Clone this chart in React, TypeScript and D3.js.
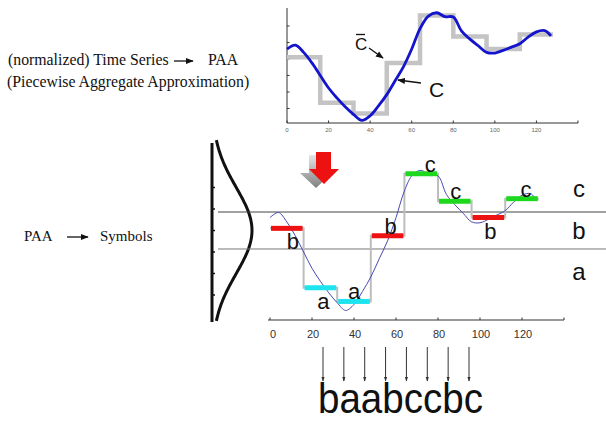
import React from "react";
import * as d3 from "d3";

// ---- data ----
const seriesX = [0, 4, 8, 12, 16, 20, 24, 28, 32, 36, 40, 44, 48, 52, 56, 60, 64, 68, 72, 76, 80, 84, 88, 92, 96, 100, 104, 108, 112, 116, 120, 124, 127];
const seriesY = [0.30, 0.42, 0.20, -0.12, -0.50, -0.88, -1.18, -1.45, -1.68, -1.86, -1.72, -1.42, -1.08, -0.66, -0.24, 0.30, 0.92, 1.30, 1.40, 1.28, 1.27, 0.84, 0.60, 0.40, 0.20, 0.18, 0.26, 0.36, 0.46, 0.66, 0.82, 0.86, 0.70];
const paaValues = [0.05, -1.33, -1.65, -0.12, 1.32, 0.68, 0.30, 0.74];
const segLen = 16;
const symbols = ["b", "a", "a", "b", "c", "c", "b", "c"];
const breakpoints = [-0.43, 0.43];
const alphabet = ["a", "b", "c"];
const xTicks = [0, 20, 40, 60, 80, 100, 120];
const topYTicks = [-1.5, -1, -0.5, 0, 0.5, 1];
const gaussTicks = [-1.5, -1, -0.5, 0, 0.5, 1];
const word = "baabccbc";

// ---- layout / style ----
const symColor: Record<string, string> = { a: "#1de4ee", b: "#ee1111", c: "#1ed81e" };
const labelBelow = [true, true, false, false, false, false, true, false];
const labelDx = [6, 3, 0, 3, 9, 1, 2, 4];

export default function App() {
  const W = 606, H = 422;
  // top chart scales
  const tx = d3.scaleLinear().domain([0, 140]).range([287, 578]);
  const ty = d3.scaleLinear().domain([-1.94, 1.55]).range([123, 7.8]);
  // bottom chart scales
  const bx = d3.scaleLinear().domain([0, 140]).range([270, 564]);
  const by = d3.scaleLinear().domain([-2.1, 2.1]).range([320.8, 140.2]);

  const pts = seriesX.map((x, i) => [x, seriesY[i]] as [number, number]);
  const topLine = d3.line<[number, number]>().x(d => tx(d[0])).y(d => ty(d[1])).curve(d3.curveCatmullRom)(pts) || "";
  const botLine = d3.line<[number, number]>().x(d => bx(d[0])).y(d => by(d[1])).curve(d3.curveCatmullRom)(pts) || "";

  const stepPts: [number, number][] = [];
  paaValues.forEach((v, i) => {
    stepPts.push([i * segLen, v]);
    stepPts.push([(i + 1) * segLen, v]);
  });
  const topStep = d3.line<[number, number]>().x(d => tx(d[0])).y(d => ty(d[1]))(stepPts) || "";
  const botStep = d3.line<[number, number]>().x(d => bx(d[0])).y(d => by(d[1]))(stepPts) || "";

  // gaussian (standard normal density)
  const gx = d3.scaleLinear().domain([0, 1]).range([212, 252]);
  const zs = d3.range(-2.1, 2.1001, 0.05);
  const gauss = d3.line<number>().x(z => gx(Math.exp(-z * z / 2))).y(z => by(z)).curve(d3.curveBasis)(zs) || "";

  const arrowX = d3.scalePoint<number>().domain(d3.range(symbols.length)).range([323, 469]);

  const serif = "'Liberation Serif', 'Times New Roman', serif";
  const sans = "'Liberation Sans', Arial, sans-serif";

  return (
    <svg width={W} height={H} style={{ position: "absolute", left: 0, top: 0, background: "#fff" }}>
      <defs>
        <marker id="ah" viewBox="0 0 10 10" refX="9" refY="5" markerWidth="6" markerHeight="6" orient="auto">
          <path d="M0,1 L10,5 L0,9 z" fill="#111" />
        </marker>
        <marker id="ah2" viewBox="0 0 10 10" refX="9" refY="5" markerWidth="5" markerHeight="6" orient="auto">
          <path d="M0,1.5 L10,5 L0,8.5 z" fill="#333" />
        </marker>
        <linearGradient id="shadow" x1="0" y1="0" x2="0" y2="1">
          <stop offset="0" stopColor="#e6e6e6" />
          <stop offset="1" stopColor="#808080" />
        </linearGradient>
      </defs>

      {/* left texts */}
      <text x={8} y={65} fontFamily={serif} fontSize={15.8} fill="#111">(normalized) Time Series</text>
      <line x1={174} y1={61} x2={193} y2={61} stroke="#111" strokeWidth={1.3} markerEnd="url(#ah)" />
      <text x={208} y={65} fontFamily={serif} fontSize={15.8} fill="#111">PAA</text>
      <text x={7} y={87} fontFamily={serif} fontSize={15.8} fill="#111">(Piecewise Aggregate Approximation)</text>

      <text x={24} y={241} fontFamily={serif} fontSize={15} fill="#111">PAA</text>
      <line x1={67} y1={237} x2={88} y2={237} stroke="#111" strokeWidth={1.3} markerEnd="url(#ah)" />
      <text x={100} y={241} fontFamily={serif} fontSize={15} fill="#111">Symbols</text>

      {/* ---- top chart ---- */}
      <line x1={tx(0)} y1={8} x2={tx(0)} y2={ty(-1.94)} stroke="#333" strokeWidth={1} />
      <line x1={tx(0)} y1={ty(-1.94)} x2={tx(140)} y2={ty(-1.94)} stroke="#333" strokeWidth={1} />
      {topYTicks.map(t => (
        <line key={"yt" + t} x1={tx(0)} x2={tx(0) + 2.5} y1={ty(t)} y2={ty(t)} stroke="#333" strokeWidth={1} />
      ))}
      {xTicks.concat([140]).map(t => (
        <line key={"xt" + t} x1={tx(t)} x2={tx(t)} y1={ty(-1.94)} y2={ty(-1.94) - 2.5} stroke="#333" strokeWidth={1} />
      ))}
      {xTicks.map(t => (
        <text key={"xl" + t} x={tx(t)} y={132} textAnchor="middle" fontFamily={sans} fontSize={6} fill="#666">{t}</text>
      ))}
      <path d={topStep} fill="none" stroke="#c4c4c4" strokeWidth={4.5} />
      <path d={topLine} fill="none" stroke="#1414cc" strokeWidth={2.8} />

      {/* annotations */}
      <line x1={356} y1={34.5} x2={365} y2={34.5} stroke="#111" strokeWidth={1.3} />
      <text x={355} y={50} fontFamily={sans} fontSize={17} fill="#111">C</text>
      <line x1={369} y1={48} x2={383} y2={58} stroke="#111" strokeWidth={1.3} markerEnd="url(#ah)" />
      <text x={429} y={97} fontFamily={sans} fontSize={21} fill="#111">C</text>
      <line x1={421} y1={83} x2={398} y2={80} stroke="#111" strokeWidth={1.3} markerEnd="url(#ah)" />

      {/* ---- red arrow ---- */}
      <path d="M309,155 L324,155 L324,173 L332,173 L316,188 L300,173 L309,173 Z" fill="url(#shadow)" />
      <path d="M316,152 L331,152 L331,169 L339,169 L324,184 L309,169 L316,169 Z" fill="#ee1111" />

      {/* ---- gaussian ---- */}
      <line x1={212} y1={143} x2={212} y2={322} stroke="#111" strokeWidth={3} />
      {gaussTicks.map(t => (
        <line key={"gt" + t} x1={212} x2={215} y1={by(t)} y2={by(t)} stroke="#111" strokeWidth={1.5} />
      ))}
      <path d={gauss} fill="none" stroke="#111" strokeWidth={3} />

      {/* breakpoints */}
      {breakpoints.map((b, i) => (
        <line key={"bp" + i} x1={218} x2={606} y1={by(b)} y2={by(b)} stroke={i === 1 ? "#444" : "#777"} strokeWidth={1} />
      ))}

      {/* bottom axis */}
      <line x1={bx(0) - 2} x2={bx(140)} y1={320} y2={320} stroke="#333" strokeWidth={1} />
      {xTicks.concat([140]).map(t => (
        <line key={"bxt" + t} x1={bx(t)} x2={bx(t)} y1={320} y2={317.5} stroke="#333" strokeWidth={1} />
      ))}
      {xTicks.map(t => (
        <text key={"bxl" + t} x={bx(t) + (t === 0 ? 3 : 1)} y={338} textAnchor="middle" fontFamily={sans} fontSize={11} fill="#333">{t}</text>
      ))}

      {/* bottom series */}
      <path d={botStep} fill="none" stroke="#bdbdbd" strokeWidth={2} />
      <path d={botLine} fill="none" stroke="#4a4ab0" strokeWidth={1} />
      {paaValues.map((v, i) => (
        <line key={"bar" + i} x1={bx(i * segLen) + 1} x2={bx((i + 1) * segLen) - 1} y1={by(v)} y2={by(v)} stroke={symColor[symbols[i]]} strokeWidth={5} />
      ))}
      {paaValues.map((v, i) => (
        <text key={"sl" + i} x={bx(i * segLen + segLen / 2) + labelDx[i]} y={labelBelow[i] ? by(v) + 21 : by(v) - 2}
          textAnchor="middle" fontFamily={sans} fontSize={22} fill="#111">{symbols[i]}</text>
      ))}

      {/* region labels */}
      {alphabet.map((s, i) => {
        const lo = i === 0 ? -1.5 : breakpoints[i - 1];
        const hi = i === alphabet.length - 1 ? 1.5 : breakpoints[i];
        const mid = (lo + hi) / 2;
        return (
          <text key={"al" + s} x={579} y={by(mid) + 8} textAnchor="middle" fontFamily={sans} fontSize={24} fill="#111">{s}</text>
        );
      })}

      {/* bottom arrows and word */}
      {symbols.map((s, i) => (
        <line key={"ar" + i} x1={arrowX(i)} x2={arrowX(i)} y1={347} y2={381} stroke="#333" strokeWidth={1} markerEnd="url(#ah2)" />
      ))}
      <text x={318} y={413} textLength={165} lengthAdjust="spacingAndGlyphs" fontFamily={sans} fontSize={42} fill="#111">{word}</text>
    </svg>
  );
}
